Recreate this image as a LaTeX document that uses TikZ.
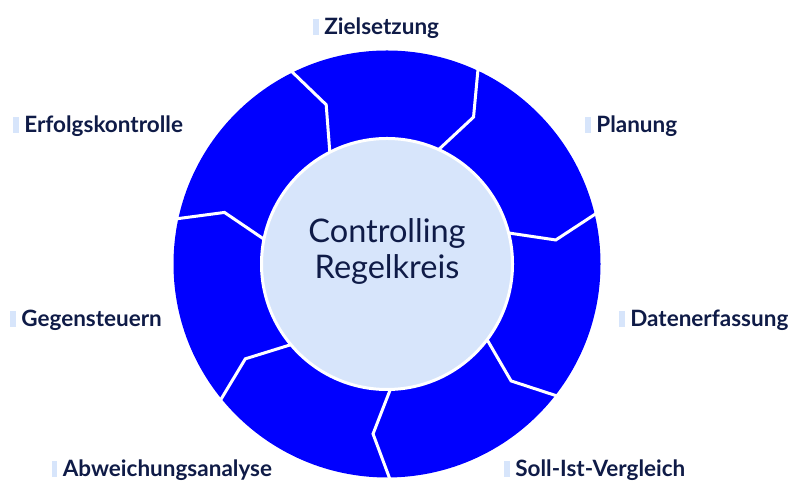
\documentclass[tikz,border=0pt]{standalone}
\usepackage{fontspec}
\setmainfont{Lato}
\usepackage{tikz}
\usetikzlibrary{positioning, calc}

\definecolor{ringblue}{HTML}{0000FF}
\definecolor{hubblue}{HTML}{D7E5FB}
\definecolor{navy}{HTML}{0F1B47}

\begin{document}
\begin{tikzpicture}[
  divider/.style={draw=white, line width=0.06cm, line join=miter},
  hub/.style={circle, fill=hubblue, draw=white, line width=0.06cm,
    minimum size=5.02cm, inner sep=0pt},
  hubtxt/.style={font=\fontsize{18.5}{20}\selectfont, text=navy,
    align=center, inner sep=0pt},
  tag/.style={anchor=base west, inner sep=0pt, text=navy,
    font=\fontsize{12.8}{14}\selectfont\bfseries},
  bar/.style={fill=hubblue},
]
\useasboundingbox (0,0) rectangle (16,10);

% --- Ring ---
\coordinate (c) at (7.74, 4.72);
\fill[ringblue] (c) circle (4.27);

% dividers between the segments
\draw[divider] ($(c)+(116.5:4.33)$) -- ($(c)+(110.9:3.41)$) -- ($(c)+(117.7:2.45)$);
\draw[divider] ($(c)+(65.1:4.33)$)  -- ($(c)+(59.5:3.41)$)  -- ($(c)+(66.3:2.45)$);
\draw[divider] ($(c)+(13.7:4.33)$)  -- ($(c)+(8.1:3.41)$)   -- ($(c)+(14.9:2.45)$);
\draw[divider] ($(c)+(-37.7:4.33)$) -- ($(c)+(-43.3:3.41)$) -- ($(c)+(-36.5:2.45)$);
\draw[divider] ($(c)+(-89.1:4.33)$) -- ($(c)+(-94.7:3.41)$) -- ($(c)+(-87.9:2.45)$);
\draw[divider] ($(c)+(-140.6:4.33)$) -- ($(c)+(-146.2:3.41)$) -- ($(c)+(-139.4:2.45)$);
\draw[divider] ($(c)+(168.0:4.33)$) -- ($(c)+(162.4:3.41)$) -- ($(c)+(169.2:2.45)$);

% --- Centre ---
\node[hub] (hub) at (c) {};
\node[hubtxt] (title) at ($(hub.center)+(0,0.25)$) {Controlling\\Regelkreis};

% --- Labels ---
\node[tag] (zs)  at (6.48, 9.30)  {Zielsetzung};
\node[tag] (pl)  at (11.92, 7.34) {Planung};
\node[tag] (de)  at (12.60, 3.46) {Datenerfassung};
\node[tag] (siv) at (10.30, 0.46) {Soll-Ist-Vergleich};
\node[tag] (aa)  at (1.25, 0.46)  {Abweichungsanalyse};
\node[tag] (gs)  at (0.42, 3.46)  {Gegensteuern};
\node[tag] (ek)  at (0.48, 7.34)  {Erfolgskontrolle};

\fill[bar] ($(zs.base west)+(-0.22,0)$)  rectangle +(0.11,0.32);
\fill[bar] ($(pl.base west)+(-0.22,0)$)  rectangle +(0.11,0.32);
\fill[bar] ($(de.base west)+(-0.22,0)$)  rectangle +(0.11,0.32);
\fill[bar] ($(siv.base west)+(-0.22,0)$) rectangle +(0.11,0.32);
\fill[bar] ($(aa.base west)+(-0.22,0)$)  rectangle +(0.11,0.32);
\fill[bar] ($(gs.base west)+(-0.22,0)$)  rectangle +(0.11,0.32);
\fill[bar] ($(ek.base west)+(-0.22,0)$)  rectangle +(0.11,0.32);

\end{tikzpicture}
\end{document}
